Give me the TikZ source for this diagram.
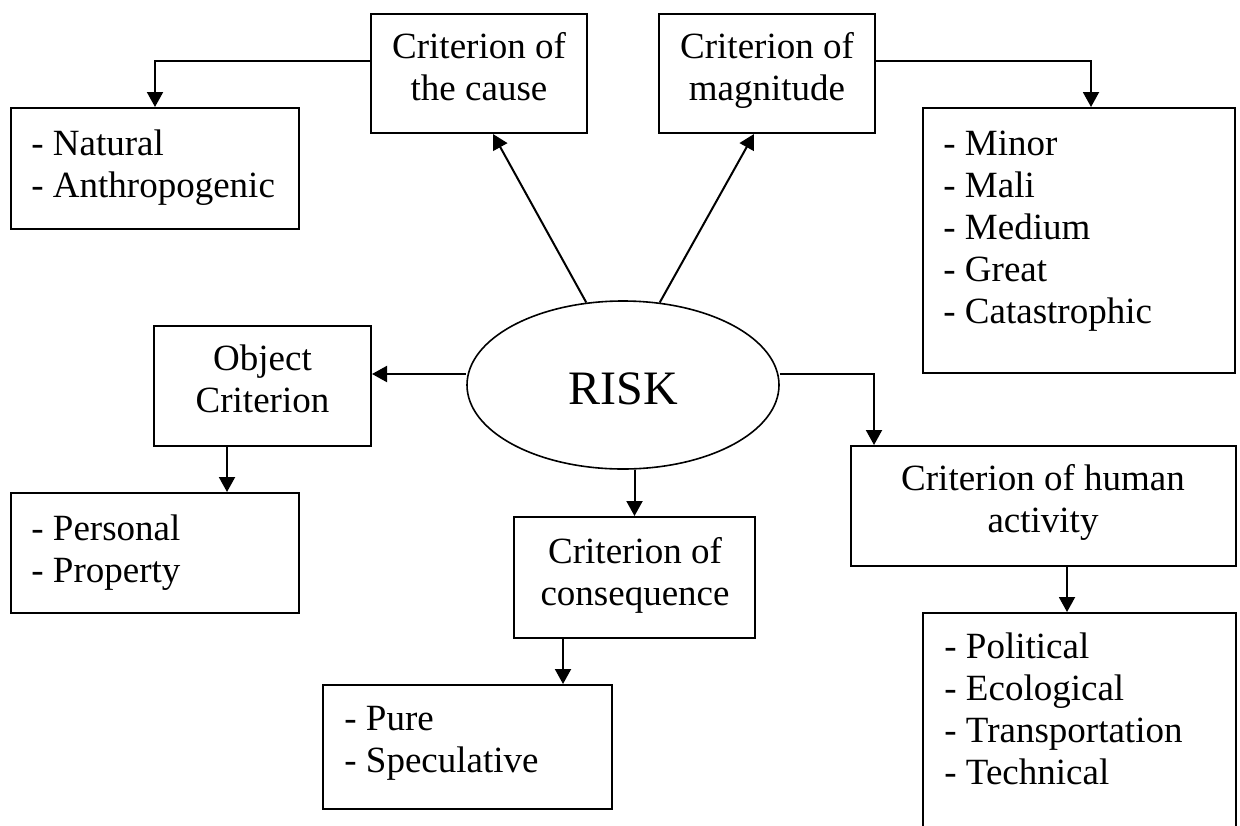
\documentclass[tikz,border=0pt]{standalone}
\usepackage{fontspec}
\setmainfont{Liberation Serif}
\usetikzlibrary{arrows.meta,shapes.geometric}
% a block of lines whose baseline is that of its first line
\newcommand\txtlines[2][c]{\begin{tabular}[t]{@{}#1@{}}#2\end{tabular}}
\begin{document}
\begin{tikzpicture}[x=0.5pt,y=-0.5pt,
  box/.style={draw,line width=1pt,rectangle,inner sep=0pt},
  lbl/.style={inner sep=0pt,font=\fontsize{18.5}{21}\selectfont},
  conn/.style={line width=1pt,-{Triangle[length=7.5pt,width=8pt]}},
]
\useasboundingbox (0,0) rectangle (1240,825);
\clip (0,0) rectangle (1240,825);

% central ellipse
\node[draw,ellipse,line width=0.8pt,inner sep=0pt,minimum width=156pt,minimum height=84pt] (risk) at (623,385) {};
\node[inner sep=0pt,anchor=base,font=\fontsize{24}{28}\selectfont] (risklbl) at (623,404) {RISK};

% criterion boxes
\node[box,minimum width=108pt,minimum height=59.5pt] (cause) at (479,73.5) {};
\node[lbl,anchor=base] (causelbl) at (479,58) {\txtlines{Criterion of\\the cause}};

\node[box,minimum width=108pt,minimum height=59.5pt] (magnitude) at (767,73.5) {};
\node[lbl,anchor=base] (magnitudelbl) at (767,58) {\txtlines{Criterion of\\magnitude}};

\node[box,minimum width=108.5pt,minimum height=60pt] (object) at (262.5,386) {};
\node[lbl,anchor=base] (objectlbl) at (262.5,370) {\txtlines{Object\\Criterion}};

\node[box,minimum width=192.5pt,minimum height=60pt] (human) at (1043.5,506) {};
\node[lbl,anchor=base] (humanlbl) at (1043,490) {\txtlines{Criterion of human\\activity}};

\node[box,minimum width=120.5pt,minimum height=60.5pt] (consequence) at (634.5,577.5) {};
\node[lbl,anchor=base] (consequencelbl) at (635,563) {\txtlines{Criterion of\\consequence}};

% lists of kinds
\node[box,minimum width=144pt,minimum height=60.5pt] (natural) at (155,168.5) {};
\node[lbl,anchor=base west] (naturallbl) at (31,155) {\txtlines[l]{- Natural\\- Anthropogenic}};

\node[box,minimum width=156pt,minimum height=132.5pt] (minor) at (1079,240.5) {};
\node[lbl,anchor=base west] (minorlbl) at (943,155) {\txtlines[l]{- Minor\\- Mali\\- Medium\\- Great\\- Catastrophic}};

\node[box,minimum width=144pt,minimum height=60pt] (personal) at (155,553) {};
\node[lbl,anchor=base west] (personallbl) at (31,540) {\txtlines[l]{- Personal\\- Property}};

\node[box,minimum width=144.5pt,minimum height=62pt] (pure) at (467.5,747) {};
\node[lbl,anchor=base west] (purelbl) at (344,730) {\txtlines[l]{- Pure\\- Speculative}};

\node[box,minimum width=156.5pt,minimum height=133.5pt] (political) at (1079.5,746.5) {};
\node[lbl,anchor=base west] (politicallbl) at (944,658) {\txtlines[l]{- Political\\- Ecological\\- Transportation\\- Technical}};

% connectors
\draw[conn] (risk.114) -- ([xshift=7pt]cause.south);
\draw[conn] (risk.66) -- ([xshift=-6.5pt]magnitude.south);
\draw[conn] ([yshift=6.25pt]cause.west) -| (natural.north);
\draw[conn] ([yshift=6.25pt]magnitude.east) -| ([xshift=6pt]minor.north);
\draw[conn] ([yshift=5.5pt]risk.west) -- ([yshift=5.5pt]risk.west -| object.east);
\draw[conn] ([xshift=-17.75pt]object.south) -- ([xshift=-17.75pt]object.south |- personal.north);
\draw[conn] (consequence.north |- risk.south) -- (consequence.north);
\draw[conn] ([xshift=-35.75pt]consequence.south) -- ([xshift=-35.75pt]consequence.south |- pure.north);
\draw[conn] ([yshift=5.5pt]risk.east) -| ([xshift=12pt]human.north west);
\draw[conn] ([xshift=11.75pt]human.south) -- ([xshift=11.75pt]human.south |- political.north);
\end{tikzpicture}
\end{document}
